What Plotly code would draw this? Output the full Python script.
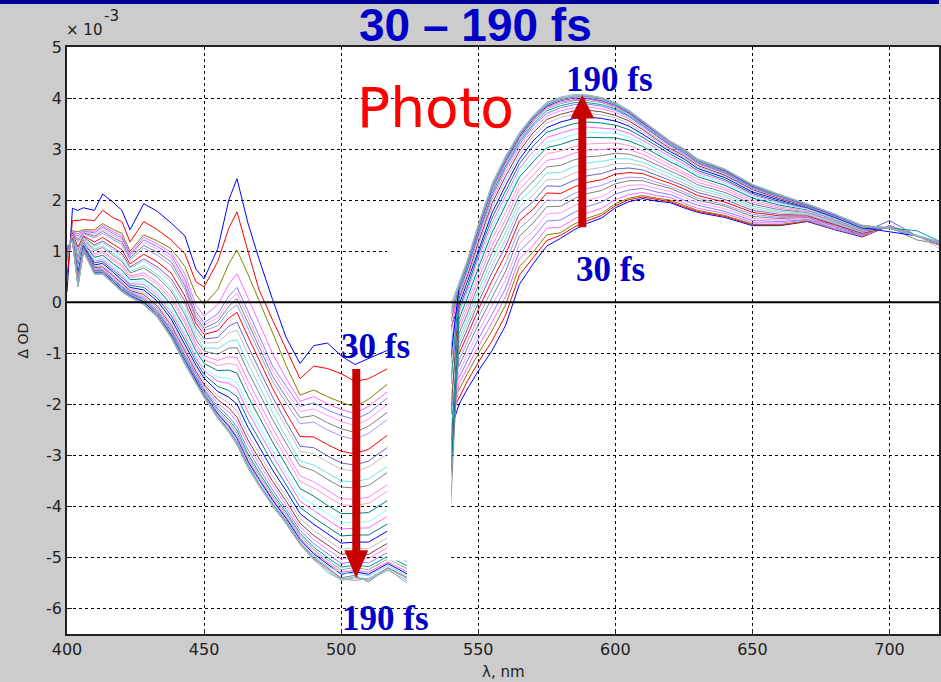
import plotly.graph_objects as go

# ---------------- data (Delta OD in units of 1e-3) ----------------
delays_fs = [30, 35, 40, 45, 50, 55, 60, 65, 70, 75, 80, 85, 90, 95, 100, 105,
             110, 115, 120, 125, 130, 135, 140, 145, 150, 155, 160, 165, 170,
             175, 180, 185, 190]

wl_bleach = [400, 402, 404, 406, 410, 413, 417, 420, 423, 428, 433, 438, 443, 447, 450,
             455, 459, 462, 466, 470, 475, 480, 485, 490, 495, 500, 505, 510, 517, 524]
wl_esa = [540, 543, 546, 550, 555, 560, 565, 570, 575, 580, 585, 590, 595, 600, 605,
          610, 615, 620, 625, 630, 640, 650, 660, 670, 680, 690, 700, 710, 720]

bleach_030 = [0.20, 1.84, 1.80, 1.85, 1.80, 2.12, 1.95, 1.80, 1.42, 1.93, 1.78, 1.55, 1.30, 0.65, 0.46, 1.05, 2.00, 2.42, 1.55, 0.85, 0.05, -0.70, -1.20, -0.85, -0.80, -1.05, -1.22, -1.10, -0.94, -0.90]
bleach_035 = [0.50, 1.60, 1.60, 1.62, 1.60, 1.80, 1.65, 1.58, 1.18, 1.58, 1.42, 1.22, 0.95, 0.40, 0.30, 0.80, 1.45, 1.77, 1.00, 0.25, -0.35, -0.94, -1.50, -1.25, -1.30, -1.40, -1.55, -1.50, -1.30, -1.30]
bleach_040 = [0.80, 1.40, 1.38, 1.42, 1.42, 1.54, 1.42, 1.35, 1.00, 1.32, 1.20, 1.05, 0.70, 0.15, -0.05, 0.25, 0.75, 1.02, 0.55, 0.05, -0.60, -1.25, -1.82, -1.72, -1.85, -1.96, -2.05, -1.90, -1.60, -1.60]
bleach_045 = [0.81, 1.39, 1.34, 1.40, 1.39, 1.50, 1.38, 1.30, 0.96, 1.27, 1.14, 0.98, 0.55, -0.06, -0.27, -0.05, 0.35, 0.56, 0.09, -0.39, -1.01, -1.50, -1.94, -1.85, -1.99, -2.10, -2.18, -2.04, -1.75, -1.75]
bleach_050 = [0.82, 1.39, 1.30, 1.39, 1.36, 1.47, 1.34, 1.26, 0.93, 1.22, 1.09, 0.92, 0.45, -0.18, -0.40, -0.23, 0.12, 0.29, -0.17, -0.64, -1.25, -1.65, -2.04, -1.97, -2.11, -2.22, -2.30, -2.17, -1.87, -1.89]
bleach_055 = [0.83, 1.38, 1.26, 1.37, 1.32, 1.43, 1.30, 1.22, 0.90, 1.17, 1.04, 0.86, 0.38, -0.24, -0.45, -0.31, 0.02, 0.18, -0.29, -0.75, -1.35, -1.76, -2.14, -2.09, -2.22, -2.34, -2.42, -2.29, -2.00, -2.02]
bleach_060 = [0.85, 1.37, 1.22, 1.36, 1.29, 1.39, 1.26, 1.18, 0.87, 1.11, 0.98, 0.79, 0.32, -0.29, -0.51, -0.38, -0.08, 0.07, -0.40, -0.86, -1.45, -1.87, -2.26, -2.22, -2.36, -2.48, -2.55, -2.43, -2.15, -2.18]
bleach_065 = [0.86, 1.36, 1.18, 1.34, 1.26, 1.35, 1.22, 1.13, 0.83, 1.06, 0.92, 0.72, 0.25, -0.34, -0.56, -0.46, -0.17, -0.05, -0.51, -0.97, -1.55, -1.98, -2.38, -2.35, -2.50, -2.62, -2.69, -2.57, -2.29, -2.33]
bleach_070 = [0.88, 1.35, 1.08, 1.30, 1.18, 1.27, 1.13, 1.03, 0.75, 0.94, 0.79, 0.57, 0.12, -0.41, -0.63, -0.56, -0.31, -0.20, -0.67, -1.12, -1.69, -2.18, -2.63, -2.64, -2.79, -2.92, -2.97, -2.88, -2.60, -2.66]
bleach_075 = [0.90, 1.33, 1.01, 1.28, 1.12, 1.20, 1.06, 0.96, 0.69, 0.85, 0.69, 0.46, 0.02, -0.50, -0.72, -0.69, -0.47, -0.39, -0.86, -1.30, -1.86, -2.35, -2.82, -2.85, -3.01, -3.15, -3.19, -3.11, -2.84, -2.91]
bleach_080 = [0.91, 1.33, 0.98, 1.26, 1.09, 1.17, 1.02, 0.92, 0.66, 0.81, 0.64, 0.39, -0.05, -0.57, -0.80, -0.79, -0.60, -0.55, -1.01, -1.45, -1.99, -2.46, -2.92, -2.97, -3.13, -3.27, -3.31, -3.23, -2.97, -3.04]
bleach_085 = [0.93, 1.31, 0.91, 1.24, 1.04, 1.10, 0.95, 0.84, 0.60, 0.72, 0.54, 0.28, -0.16, -0.66, -0.89, -0.91, -0.77, -0.74, -1.20, -1.63, -2.16, -2.65, -3.11, -3.19, -3.35, -3.50, -3.52, -3.46, -3.21, -3.29]
bleach_090 = [0.94, 1.31, 0.87, 1.22, 1.01, 1.07, 0.91, 0.80, 0.57, 0.67, 0.49, 0.22, -0.24, -0.73, -0.96, -1.02, -0.90, -0.89, -1.35, -1.78, -2.30, -2.77, -3.21, -3.30, -3.47, -3.62, -3.64, -3.59, -3.33, -3.43]
bleach_095 = [0.96, 1.29, 0.80, 1.19, 0.95, 1.01, 0.84, 0.73, 0.51, 0.58, 0.39, 0.11, -0.35, -0.81, -1.05, -1.14, -1.07, -1.08, -1.54, -1.96, -2.47, -2.94, -3.40, -3.52, -3.69, -3.85, -3.86, -3.82, -3.57, -3.68]
bleach_100 = [0.97, 1.29, 0.76, 1.18, 0.92, 0.97, 0.81, 0.69, 0.48, 0.53, 0.34, 0.04, -0.41, -0.88, -1.12, -1.24, -1.20, -1.23, -1.69, -2.10, -2.61, -3.05, -3.51, -3.64, -3.81, -3.97, -3.98, -3.94, -3.70, -3.81]
bleach_105 = [0.99, 1.28, 0.71, 1.16, 0.88, 0.92, 0.75, 0.63, 0.44, 0.46, 0.26, -0.04, -0.51, -0.95, -1.20, -1.34, -1.33, -1.39, -1.84, -2.25, -2.74, -3.20, -3.65, -3.80, -3.98, -4.14, -4.14, -4.12, -3.88, -4.01]
bleach_110 = [1.00, 1.27, 0.65, 1.14, 0.83, 0.87, 0.70, 0.57, 0.39, 0.40, 0.19, -0.13, -0.60, -1.04, -1.29, -1.47, -1.49, -1.58, -2.03, -2.43, -2.91, -3.35, -3.80, -3.97, -4.15, -4.32, -4.31, -4.30, -4.06, -4.20]
bleach_115 = [1.01, 1.26, 0.61, 1.12, 0.80, 0.84, 0.66, 0.53, 0.36, 0.35, 0.14, -0.19, -0.66, -1.09, -1.34, -1.55, -1.59, -1.69, -2.15, -2.54, -3.01, -3.45, -3.90, -4.08, -4.26, -4.44, -4.43, -4.42, -4.19, -4.33]
bleach_120 = [1.03, 1.25, 0.57, 1.11, 0.77, 0.80, 0.62, 0.49, 0.33, 0.29, 0.08, -0.26, -0.74, -1.16, -1.42, -1.65, -1.73, -1.85, -2.30, -2.69, -3.15, -3.58, -4.02, -4.22, -4.40, -4.58, -4.56, -4.56, -4.34, -4.49]
bleach_125 = [1.04, 1.24, 0.53, 1.09, 0.73, 0.76, 0.58, 0.44, 0.29, 0.24, 0.02, -0.33, -0.82, -1.23, -1.49, -1.75, -1.86, -2.00, -2.45, -2.83, -3.29, -3.70, -4.14, -4.35, -4.54, -4.72, -4.70, -4.70, -4.48, -4.64]
bleach_130 = [1.05, 1.24, 0.49, 1.07, 0.70, 0.72, 0.54, 0.40, 0.26, 0.19, -0.04, -0.39, -0.88, -1.29, -1.55, -1.84, -1.97, -2.13, -2.59, -2.96, -3.41, -3.81, -4.24, -4.47, -4.66, -4.84, -4.81, -4.83, -4.61, -4.78]
bleach_135 = [1.06, 1.23, 0.46, 1.06, 0.68, 0.69, 0.51, 0.37, 0.23, 0.15, -0.08, -0.45, -0.94, -1.35, -1.61, -1.91, -2.07, -2.25, -2.70, -3.07, -3.51, -3.90, -4.33, -4.57, -4.76, -4.94, -4.91, -4.94, -4.72, -4.89]
bleach_140 = [1.06, 1.22, 0.43, 1.05, 0.65, 0.67, 0.48, 0.34, 0.21, 0.11, -0.12, -0.49, -0.99, -1.39, -1.65, -1.98, -2.15, -2.34, -2.79, -3.16, -3.59, -3.98, -4.40, -4.65, -4.84, -5.03, -5.00, -5.02, -4.81, -4.99]
bleach_145 = [1.07, 1.22, 0.40, 1.04, 0.63, 0.64, 0.45, 0.31, 0.19, 0.08, -0.16, -0.53, -1.04, -1.43, -1.70, -2.04, -2.24, -2.44, -2.89, -3.25, -3.68, -4.06, -4.47, -4.73, -4.93, -5.12, -5.08, -5.11, -4.90, -5.08]
bleach_150 = [1.08, 1.21, 0.38, 1.03, 0.62, 0.62, 0.43, 0.29, 0.17, 0.05, -0.19, -0.57, -1.08, -1.47, -1.73, -2.09, -2.30, -2.51, -2.97, -3.33, -3.75, -4.12, -4.53, -4.80, -5.00, -5.19, -5.15, -5.18, -4.98, -5.16]
bleach_155 = [1.08, 1.21, 0.37, 1.03, 0.60, 0.61, 0.41, 0.27, 0.15, 0.03, -0.21, -0.60, -1.11, -1.50, -1.76, -2.13, -2.35, -2.57, -3.02, -3.38, -3.80, -4.16, -4.57, -4.85, -5.05, -5.24, -5.20, -5.24, -5.03, -5.22]
bleach_160 = [1.09, 1.21, 0.35, 1.02, 0.59, 0.60, 0.40, 0.25, 0.14, 0.01, -0.23, -0.62, -1.13, -1.52, -1.79, -2.17, -2.40, -2.63, -3.08, -3.44, -3.85, -4.21, -4.62, -4.90, -5.10, -5.29, -5.25, -5.29, -5.09, -5.28]
bleach_165 = [1.09, 1.21, 0.34, 1.01, 0.58, 0.58, 0.39, 0.24, 0.13, 0.00, -0.25, -0.64, -1.15, -1.54, -1.81, -2.19, -2.43, -2.67, -3.12, -3.47, -3.88, -4.24, -4.65, -4.93, -5.13, -5.33, -5.28, -5.33, -5.12, -5.32]
bleach_170 = [1.09, 1.20, 0.33, 1.01, 0.57, 0.57, 0.38, 0.23, 0.12, -0.02, -0.26, -0.66, -1.17, -1.56, -1.82, -2.22, -2.47, -2.70, -3.16, -3.51, -3.92, -4.27, -4.68, -4.97, -5.17, -5.30, -5.32, -5.36, -5.16, -5.35]
bleach_175 = [1.10, 1.20, 0.32, 1.01, 0.56, 0.56, 0.37, 0.22, 0.11, -0.03, -0.28, -0.67, -1.19, -1.57, -1.84, -2.24, -2.50, -2.74, -3.19, -3.55, -3.95, -4.30, -4.71, -5.00, -5.20, -5.40, -5.35, -5.48, -5.20, -5.39]
bleach_180 = [1.10, 1.20, 0.31, 1.00, 0.56, 0.56, 0.36, 0.21, 0.11, -0.04, -0.29, -0.68, -1.20, -1.58, -1.85, -2.25, -2.52, -2.76, -3.21, -3.56, -3.97, -4.32, -4.72, -5.02, -5.22, -5.42, -5.45, -5.41, -5.21, -5.41]
bleach_185 = [1.10, 1.20, 0.30, 1.00, 0.55, 0.55, 0.36, 0.21, 0.10, -0.04, -0.29, -0.69, -1.21, -1.59, -1.86, -2.27, -2.53, -2.78, -3.23, -3.58, -3.98, -4.33, -4.74, -5.03, -5.30, -5.43, -5.38, -5.43, -5.23, -5.50]
bleach_190 = [1.10, 1.20, 0.30, 1.00, 0.55, 0.55, 0.35, 0.20, 0.10, -0.05, -0.30, -0.70, -1.22, -1.60, -1.87, -2.28, -2.55, -2.80, -3.25, -3.60, -4.00, -4.35, -4.75, -5.05, -5.25, -5.45, -5.40, -5.45, -5.25, -5.45]

esa_030 = [-2.50, -2.00, -1.70, -1.35, -0.95, -0.45, 0.35, 0.75, 1.10, 1.25, 1.42, 1.55, 1.65, 1.85, 1.97, 2.03, 1.98, 1.95, 1.85, 1.76, 1.66, 1.50, 1.50, 1.58, 1.42, 1.28, 1.50, 1.30, 1.08]
esa_035 = [-2.20, -1.86, -1.55, -1.18, -0.76, -0.25, 0.53, 0.87, 1.21, 1.31, 1.47, 1.60, 1.70, 1.89, 2.01, 2.06, 2.01, 1.97, 1.87, 1.78, 1.68, 1.52, 1.51, 1.59, 1.55, 1.28, 1.50, 1.30, 1.08]
esa_040 = [-1.90, -1.72, -1.40, -1.01, -0.56, -0.05, 0.70, 0.98, 1.32, 1.36, 1.53, 1.65, 1.74, 1.93, 2.04, 2.09, 2.04, 2.00, 1.90, 1.80, 1.70, 1.53, 1.52, 1.59, 1.43, 1.29, 1.50, 1.30, 1.08]
esa_045 = [-2.70, -1.60, -1.28, -0.87, -0.40, 0.11, 0.85, 1.11, 1.45, 1.47, 1.63, 1.75, 1.84, 2.01, 2.11, 2.15, 2.09, 2.05, 1.94, 1.84, 1.74, 1.56, 1.55, 1.61, 1.44, 1.30, 1.50, 1.30, 1.09]
esa_050 = [-1.60, -1.48, -1.15, -0.72, -0.24, 0.28, 1.00, 1.26, 1.59, 1.61, 1.76, 1.88, 1.96, 2.12, 2.20, 2.23, 2.16, 2.11, 2.00, 1.90, 1.78, 1.60, 1.58, 1.62, 1.46, 1.31, 1.49, 1.30, 1.09]
esa_055 = [-3.00, -1.37, -1.03, -0.58, -0.07, 0.44, 1.15, 1.40, 1.73, 1.75, 1.89, 2.00, 2.07, 2.22, 2.29, 2.30, 2.23, 2.17, 2.06, 1.95, 1.83, 1.64, 1.61, 1.64, 1.47, 1.40, 1.49, 1.30, 1.09]
esa_060 = [-1.40, -1.25, -0.90, -0.44, 0.09, 0.61, 1.29, 1.55, 1.87, 1.88, 2.03, 2.13, 2.19, 2.32, 2.38, 2.38, 2.30, 2.23, 2.12, 2.00, 1.88, 1.68, 1.64, 1.66, 1.49, 1.33, 1.49, 1.30, 1.10]
esa_065 = [-2.20, -1.13, -0.78, -0.30, 0.25, 0.77, 1.44, 1.68, 2.00, 1.99, 2.13, 2.23, 2.29, 2.40, 2.45, 2.44, 2.35, 2.27, 2.16, 2.04, 1.91, 1.72, 1.66, 1.67, 1.50, 1.34, 1.49, 1.30, 1.10]
esa_070 = [-1.20, -1.01, -0.65, -0.15, 0.42, 0.94, 1.59, 1.82, 2.14, 2.13, 2.26, 2.35, 2.40, 2.51, 2.54, 2.52, 2.42, 2.33, 2.22, 2.09, 1.96, 1.76, 1.69, 1.69, 1.52, 1.35, 1.48, 1.30, 1.10]
esa_075 = [-3.30, -0.90, -0.53, -0.01, 0.58, 1.10, 1.74, 1.97, 2.28, 2.27, 2.39, 2.48, 2.52, 2.61, 2.63, 2.59, 2.49, 2.39, 2.28, 2.15, 2.01, 1.80, 1.72, 1.71, 1.53, 1.36, 1.60, 1.30, 1.11]
esa_080 = [-1.00, -0.80, -0.43, 0.10, 0.71, 1.23, 1.86, 2.10, 2.40, 2.41, 2.53, 2.60, 2.64, 2.71, 2.72, 2.67, 2.56, 2.45, 2.33, 2.20, 2.06, 1.84, 1.75, 1.72, 1.55, 1.37, 1.48, 1.30, 1.11]
esa_085 = [-2.60, -0.71, -0.33, 0.22, 0.84, 1.37, 1.97, 2.23, 2.53, 2.54, 2.66, 2.73, 2.76, 2.81, 2.81, 2.74, 2.62, 2.51, 2.39, 2.25, 2.10, 1.88, 1.78, 1.74, 1.56, 1.38, 1.48, 1.30, 1.11]
esa_090 = [-3.95, -0.61, -0.23, 0.33, 0.97, 1.50, 2.09, 2.36, 2.65, 2.68, 2.79, 2.85, 2.87, 2.92, 2.90, 2.82, 2.69, 2.57, 2.45, 2.30, 2.15, 1.92, 1.81, 1.76, 1.58, 1.39, 1.47, 1.22, 1.12]
esa_095 = [-0.90, -0.52, -0.13, 0.45, 1.10, 1.63, 2.21, 2.49, 2.78, 2.82, 2.92, 2.98, 2.99, 3.02, 2.99, 2.90, 2.76, 2.63, 2.51, 2.35, 2.20, 1.96, 1.84, 1.77, 1.59, 1.41, 1.47, 1.30, 1.12]
esa_100 = [-1.90, -0.43, -0.03, 0.56, 1.23, 1.76, 2.33, 2.62, 2.91, 2.96, 3.05, 3.10, 3.11, 3.12, 3.07, 2.97, 2.83, 2.69, 2.56, 2.41, 2.24, 2.00, 1.87, 1.79, 1.61, 1.42, 1.47, 1.30, 1.12]
esa_105 = [-3.40, -0.33, 0.08, 0.67, 1.36, 1.89, 2.45, 2.75, 3.03, 3.09, 3.18, 3.23, 3.23, 3.22, 3.16, 3.05, 2.90, 2.75, 2.62, 2.46, 2.29, 2.04, 1.90, 1.81, 1.62, 1.43, 1.47, 1.30, 1.13]
esa_110 = [-0.70, -0.26, 0.15, 0.76, 1.46, 1.99, 2.53, 2.85, 3.13, 3.20, 3.29, 3.33, 3.32, 3.31, 3.23, 3.11, 2.95, 2.80, 2.67, 2.50, 2.33, 2.07, 1.93, 1.82, 1.63, 1.44, 1.46, 1.30, 1.13]
esa_115 = [-1.50, -0.19, 0.23, 0.85, 1.55, 2.09, 2.62, 2.95, 3.23, 3.31, 3.39, 3.43, 3.41, 3.39, 3.31, 3.17, 3.01, 2.85, 2.71, 2.54, 2.37, 2.10, 1.95, 1.84, 1.65, 1.45, 1.46, 1.30, 1.13]
esa_120 = [-2.90, -0.12, 0.30, 0.93, 1.65, 2.19, 2.71, 3.06, 3.33, 3.42, 3.50, 3.53, 3.51, 3.47, 3.38, 3.23, 3.06, 2.90, 2.76, 2.58, 2.40, 2.13, 1.97, 1.85, 1.66, 1.45, 1.46, 1.30, 1.14]
esa_125 = [-0.50, -0.05, 0.38, 1.02, 1.75, 2.29, 2.80, 3.16, 3.42, 3.53, 3.60, 3.63, 3.60, 3.55, 3.45, 3.29, 3.12, 2.95, 2.81, 2.62, 2.44, 2.16, 2.00, 1.86, 1.67, 1.46, 1.38, 1.30, 1.14]
esa_130 = [-1.20, 0.02, 0.45, 1.10, 1.85, 2.39, 2.89, 3.24, 3.51, 3.62, 3.68, 3.70, 3.67, 3.61, 3.50, 3.34, 3.16, 2.98, 2.84, 2.65, 2.47, 2.19, 2.02, 1.87, 1.68, 1.47, 1.46, 1.30, 1.00]
esa_135 = [-2.20, 0.08, 0.51, 1.17, 1.93, 2.47, 2.96, 3.32, 3.58, 3.68, 3.75, 3.76, 3.73, 3.66, 3.55, 3.38, 3.19, 3.01, 2.87, 2.68, 2.49, 2.21, 2.03, 1.88, 1.69, 1.48, 1.46, 1.30, 1.14]
esa_140 = [-0.35, 0.14, 0.58, 1.24, 2.01, 2.55, 3.03, 3.39, 3.65, 3.75, 3.81, 3.83, 3.79, 3.72, 3.59, 3.41, 3.23, 3.04, 2.90, 2.71, 2.52, 2.23, 2.05, 1.89, 1.69, 1.48, 1.46, 1.30, 1.14]
esa_145 = [-0.90, 0.19, 0.63, 1.30, 2.07, 2.62, 3.09, 3.45, 3.70, 3.81, 3.87, 3.88, 3.84, 3.76, 3.63, 3.44, 3.25, 3.07, 2.92, 2.73, 2.53, 2.24, 2.06, 1.90, 1.70, 1.49, 1.45, 1.30, 1.15]
esa_150 = [-1.60, 0.22, 0.66, 1.34, 2.12, 2.67, 3.14, 3.49, 3.75, 3.85, 3.91, 3.91, 3.87, 3.79, 3.65, 3.47, 3.27, 3.08, 2.94, 2.74, 2.55, 2.26, 2.07, 1.90, 1.70, 1.49, 1.45, 1.40, 1.15]
esa_155 = [-0.25, 0.26, 0.70, 1.39, 2.17, 2.72, 3.18, 3.53, 3.79, 3.89, 3.95, 3.95, 3.91, 3.82, 3.68, 3.49, 3.30, 3.10, 2.95, 2.76, 2.56, 2.27, 2.08, 1.91, 1.71, 1.49, 1.45, 1.30, 1.15]
esa_160 = [-0.60, 0.28, 0.73, 1.41, 2.20, 2.75, 3.21, 3.56, 3.82, 3.92, 3.97, 3.98, 3.93, 3.84, 3.70, 3.50, 3.31, 3.11, 2.97, 2.77, 2.57, 2.28, 2.08, 1.91, 1.71, 1.49, 1.45, 1.30, 1.15]
esa_165 = [-1.10, 0.30, 0.75, 1.44, 2.24, 2.78, 3.24, 3.59, 3.84, 3.95, 4.00, 4.00, 3.95, 3.86, 3.71, 3.52, 3.32, 3.13, 2.98, 2.78, 2.58, 2.28, 2.09, 1.91, 1.71, 1.50, 1.45, 1.30, 1.15]
esa_170 = [-0.15, 0.31, 0.76, 1.46, 2.25, 2.80, 3.26, 3.61, 3.86, 3.96, 4.01, 4.01, 3.96, 3.87, 3.72, 3.53, 3.33, 3.13, 2.98, 2.78, 2.59, 2.29, 2.09, 1.92, 1.72, 1.50, 1.45, 1.30, 1.15]
esa_175 = [-0.40, 0.33, 0.78, 1.47, 2.27, 2.82, 3.27, 3.62, 3.87, 3.97, 4.02, 4.03, 3.98, 3.88, 3.73, 3.53, 3.34, 3.14, 2.99, 2.79, 2.59, 2.29, 2.09, 1.92, 1.72, 1.50, 1.45, 1.30, 1.15]
esa_180 = [-0.20, 0.34, 0.79, 1.49, 2.28, 2.83, 3.29, 3.64, 3.89, 3.99, 4.04, 4.04, 3.99, 3.89, 3.74, 3.54, 3.34, 3.14, 2.99, 2.79, 2.60, 2.30, 2.10, 1.92, 1.72, 1.50, 1.45, 1.30, 1.15]
esa_185 = [-0.12, 0.35, 0.80, 1.50, 2.30, 2.85, 3.30, 3.65, 3.90, 4.00, 4.05, 4.05, 4.00, 3.90, 3.75, 3.55, 3.35, 3.15, 3.00, 2.80, 2.60, 2.30, 2.10, 1.92, 1.72, 1.50, 1.45, 1.30, 1.15]
esa_190 = [-0.05, 0.38, 0.82, 1.52, 2.32, 2.87, 3.32, 3.66, 3.92, 4.02, 4.07, 4.06, 4.01, 3.92, 3.76, 3.56, 3.36, 3.16, 3.01, 2.81, 2.61, 2.31, 2.11, 1.93, 1.73, 1.51, 1.46, 1.31, 1.16]

line_colors = ['#0000ff', '#ff0000', '#808000', '#ff66ff', '#8080ff', '#ff99ff', '#808080',
               '#9999ff', '#ff0000', '#6666cc', '#c0c0c0', '#66e6e6', '#808080', '#ff80ff',
               '#ff99cc', '#008080', '#80ffff', '#ff66ff', '#008080', '#0000ff', '#c0c0c0',
               '#804040', '#ff80ff', '#8080ff', '#00a0a0', '#a0a0a0', '#ff66cc', '#0000ff',
               '#80e0e0', '#808080', '#c080c0', '#66cccc', '#a0b0b0']

bleach_sets = [bleach_030, bleach_035, bleach_040, bleach_045, bleach_050, bleach_055, bleach_060,
               bleach_065, bleach_070, bleach_075, bleach_080, bleach_085, bleach_090, bleach_095,
               bleach_100, bleach_105, bleach_110, bleach_115, bleach_120, bleach_125, bleach_130,
               bleach_135, bleach_140, bleach_145, bleach_150, bleach_155, bleach_160, bleach_165,
               bleach_170, bleach_175, bleach_180, bleach_185, bleach_190]
esa_sets = [esa_030, esa_035, esa_040, esa_045, esa_050, esa_055, esa_060, esa_065, esa_070,
            esa_075, esa_080, esa_085, esa_090, esa_095, esa_100, esa_105, esa_110, esa_115,
            esa_120, esa_125, esa_130, esa_135, esa_140, esa_145, esa_150, esa_155, esa_160,
            esa_165, esa_170, esa_175, esa_180, esa_185, esa_190]

x_ticks = [400, 450, 500, 550, 600, 650, 700]
y_ticks = [-6, -5, -4, -3, -2, -1, 0, 1, 2, 3, 4, 5]
y_tick_labels = ['-6', '-5', '-4', '-3', '-2', '-1', '0', '1', '2', '3', '4', '5']

# ---------------- figure ----------------
fig = go.Figure()
for t, yb, ye, c in zip(delays_fs, bleach_sets, esa_sets, line_colors):
    fig.add_trace(go.Scatter(
        x=wl_bleach + [None] + wl_esa,
        y=yb + [None] + ye,
        mode='lines', line=dict(color=c, width=1),
        name=f'{t} fs', showlegend=False, connectgaps=False))

TICKFONT = dict(family='DejaVu Sans', size=16, color='#222222')
fig.update_layout(
    width=941, height=682,
    margin=dict(l=67, r=0, t=47, b=48),
    paper_bgcolor='#cccccc', plot_bgcolor='white',
    showlegend=False,
    xaxis=dict(range=[400, 718.05], tickvals=x_ticks, showgrid=True, gridcolor='black',
               griddash='3px,3px', gridwidth=1, zeroline=False, showline=True,
               linecolor='#222222', linewidth=1.5, mirror=True, ticks='inside',
               ticklen=5, tickcolor='#222222', tickfont=TICKFONT),
    yaxis=dict(range=[-6.5, 5], tickvals=y_ticks, ticktext=y_tick_labels,
               showgrid=True, gridcolor='black',
               griddash='3px,3px', gridwidth=1, zeroline=False, showline=True,
               linecolor='#222222', linewidth=1.5, mirror=True, ticks='inside',
               ticklen=5, tickcolor='#222222', tickfont=TICKFONT),
)

DARKRED = '#c80000'
shapes = [
    # pump-scatter window blanked out
    dict(type='rect', xref='x', yref='y', x0=516.8, x1=540.15, y0=-5.06, y1=1.16,
         fillcolor='white', line=dict(width=0), layer='above'),
    # zero line
    dict(type='line', xref='paper', yref='y', x0=0, x1=1, y0=0, y1=0,
         line=dict(color='black', width=2), layer='above'),
    # arrow 30 -> 190 fs (bleach, downward)
    dict(type='path', xref='x', yref='y', layer='above', fillcolor=DARKRED,
         line=dict(width=0),
         path='M 504.05 -1.31 L 506.95 -1.31 L 506.95 -4.86 L 509.85 -4.86 '
              'L 505.5 -5.41 L 501.15 -4.86 L 504.05 -4.86 Z'),
    # arrow 30 -> 190 fs (absorption, upward)
    dict(type='path', xref='x', yref='y', layer='above', fillcolor=DARKRED,
         line=dict(width=0),
         path='M 586.5 1.47 L 589.4 1.47 L 589.4 3.60 L 592.3 3.60 '
              'L 587.95 4.06 L 583.6 3.60 L 586.5 3.60 Z'),
    # dark blue strip at top
    dict(type='rect', xref='paper', yref='paper', x0=-0.08, x1=1.0, y0=1.0733, y1=1.09,
         fillcolor='#000099', line=dict(width=0), layer='above'),
]
fig.update_layout(shapes=shapes)

BLUE = '#0000c8'
SERIF = dict(family='Liberation Serif', size=35, color=BLUE)
SMALL = dict(family='DejaVu Sans', size=15, color='#222222')
annotations = [
    dict(text='<b>30 – 190 fs</b>', xref='paper', yref='paper', x=0.469, y=1.0375,
         xanchor='center', yanchor='middle', showarrow=False,
         font=dict(family='Liberation Sans', size=46, color=BLUE)),
    dict(text='Photo', xref='paper', yref='paper', x=0.330, y=0.896,
         xanchor='left', yanchor='middle', showarrow=False,
         font=dict(family='DejaVu Sans', size=55, color='#ff0000')),
    dict(text='<b>190 fs</b>', xref='paper', yref='paper', x=0.6224, y=0.9438,
         xanchor='center', yanchor='middle', showarrow=False, font=SERIF),
    dict(text='<b>30 fs</b>', xref='paper', yref='paper', x=0.623, y=0.6218,
         xanchor='center', yanchor='middle', showarrow=False, font=SERIF),
    dict(text='<b>30 fs</b>', xref='paper', yref='paper', x=0.3535, y=0.4906,
         xanchor='center', yanchor='middle', showarrow=False, font=SERIF),
    dict(text='<b>190 fs</b>', xref='paper', yref='paper', x=0.365, y=0.026,
         xanchor='center', yanchor='middle', showarrow=False, font=SERIF),
    dict(text='× 10', xref='paper', yref='paper', x=-0.003, y=1.0095,
         xanchor='left', yanchor='bottom', showarrow=False, font=SMALL),
    dict(text='-3', xref='paper', yref='paper', x=0.0405, y=1.034,
         xanchor='left', yanchor='bottom', showarrow=False, font=SMALL),
    dict(text='Δ OD', xref='paper', yref='paper', x=-0.0515, y=0.5,
         xanchor='center', yanchor='middle', textangle=-90, showarrow=False,
         font=dict(family='DejaVu Sans', size=14, color='#222222')),
    dict(text='λ, nm', xref='paper', yref='paper', x=0.5, y=-0.0647,
         xanchor='center', yanchor='middle', showarrow=False, font=SMALL),
]
fig.update_layout(annotations=annotations)

fig.write_html('out.html',
               config={'displayModeBar': False},
               post_script="document.body.style.margin='0';"
                           "document.body.style.overflow='hidden';")
